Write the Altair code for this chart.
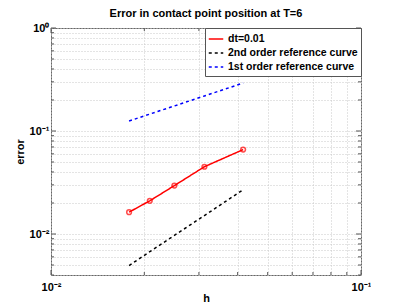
import altair as alt
import pandas as pd

# ---- data ----
h = [0.01786, 0.02083, 0.025, 0.03125, 0.04167]
err_dt001 = [0.0163, 0.0210, 0.0295, 0.0450, 0.0660]
ref_2nd = [0.00494, 0.00673, 0.0097, 0.0151, 0.0269]
ref_1st = [0.125, 0.146, 0.175, 0.219, 0.292]

series_names = ["dt=0.01", "2nd order reference curve", "1st order reference curve"]
series_colors = ["#ff0000", "#000000", "#0000ff"]
series_dash = [[1, 0], [3, 3], [3, 3]]

x_major = [0.01, 0.1]
x_minor = [0.02, 0.03, 0.04, 0.05, 0.06, 0.07, 0.08, 0.09]
y_major = [0.01, 0.1, 1.0]
y_minor = [0.004, 0.005, 0.006, 0.007, 0.008, 0.009,
           0.02, 0.03, 0.04, 0.05, 0.06, 0.07, 0.08, 0.09,
           0.2, 0.3, 0.4, 0.5, 0.6, 0.7, 0.8, 0.9]

W, H = 310, 247
FONT = "Liberation Sans"

rows = []
for name, vals in zip(series_names, [err_dt001, ref_2nd, ref_1st]):
    for hv, ev in zip(h, vals):
        rows.append({"series": name, "h": hv, "err": ev})
df = pd.DataFrame(rows)

xscale = alt.Scale(type="log", domain=[0.01, 0.1], nice=False)
yscale = alt.Scale(type="log", domain=[0.004, 1.0], nice=False)

xlabel = ("abs(datum.value-0.01)<1e-9 ? '10\u207b\u00b2' : "
          "(abs(datum.value-0.1)<1e-9 ? '10\u207b\u00b9' : '')")
ylabel = ("datum.value > 0.99 ? '10\u2070' : (abs(datum.value-0.1)<1e-9 ? '10\u207b\u00b9' : "
          "(abs(datum.value-0.01)<1e-9 ? '10\u207b\u00b2' : ''))")

xaxis = alt.Axis(values=x_major + x_minor, labelExpr=xlabel, title="h",
                 tickSize=0, domain=False, grid=True, labelPadding=6,
                 titlePadding=0, labelFlush=False, labelOverlap=False)
yaxis = alt.Axis(values=y_major + y_minor, labelExpr=ylabel, title="error",
                 tickSize=0, domain=False, grid=True, labelPadding=2,
                 titlePadding=4, labelOverlap=False)

color = alt.Color("series:N", scale=alt.Scale(domain=series_names, range=series_colors),
                  legend=alt.Legend(title=None))
dash = alt.StrokeDash("series:N", scale=alt.Scale(domain=series_names, range=series_dash),
                      legend=alt.Legend(title=None))

lines = alt.Chart(df).mark_line(strokeWidth=1.5).encode(
    x=alt.X("h:Q", scale=xscale, axis=xaxis),
    y=alt.Y("err:Q", scale=yscale, axis=yaxis),
    color=color,
    strokeDash=dash,
)

points = alt.Chart(df).transform_filter(
    alt.datum.series == series_names[0]
).mark_point(shape="circle", filled=False, size=22, strokeWidth=1.5, color="#ff0000").encode(
    x="h:Q", y="err:Q"
)

tick_layers = []
for vals, ln in [(x_major, 5), (x_minor, 3)]:
    tdf = pd.DataFrame({"v": vals})
    base = alt.Chart(tdf).mark_rule(color="#555", strokeWidth=1)
    tick_layers.append(base.encode(x="v:Q", y=alt.value(H), y2=alt.value(H - ln)))
    tick_layers.append(base.encode(x="v:Q", y=alt.value(0), y2=alt.value(ln)))
for vals, ln in [(y_major, 5), (y_minor, 3)]:
    tdf = pd.DataFrame({"v": vals})
    base = alt.Chart(tdf).mark_rule(color="#555", strokeWidth=1)
    tick_layers.append(base.encode(y="v:Q", x=alt.value(0), x2=alt.value(ln)))
    tick_layers.append(base.encode(y="v:Q", x=alt.value(W), x2=alt.value(W - ln)))

chart = alt.layer(lines, points, *tick_layers).properties(
    width=W, height=H,
    title=alt.TitleParams("Error in contact point position at T=6", fontSize=11,
                          font=FONT, fontWeight="bold", anchor="middle", offset=3,
                          frame="group", color="#000"),
    padding={"left": 6, "top": 0, "right": 0, "bottom": 0},
).configure_view(
    stroke="#666", strokeWidth=1
).configure_axis(
    gridColor="#c8c8c8", gridDash=[1, 2], gridWidth=1,
    labelFont=FONT, labelFontSize=11, labelFontWeight="bold", labelColor="#000",
    titleFont=FONT, titleFontSize=11, titleFontWeight="bold", titleColor="#000",
).configure_legend(
    orient="top-right", offset=0, padding=3, fillColor="white", strokeColor="#555",
    labelFont=FONT, labelFontSize=10.5, labelFontWeight="bold", labelColor="#000",
    labelAlign="left", columns=1,
    symbolType="stroke", symbolSize=210, symbolStrokeWidth=1.5, rowPadding=0,
    labelOffset=4, cornerRadius=0,
)

chart.save("out.html", embed_options={"renderer": "svg", "actions": False})
